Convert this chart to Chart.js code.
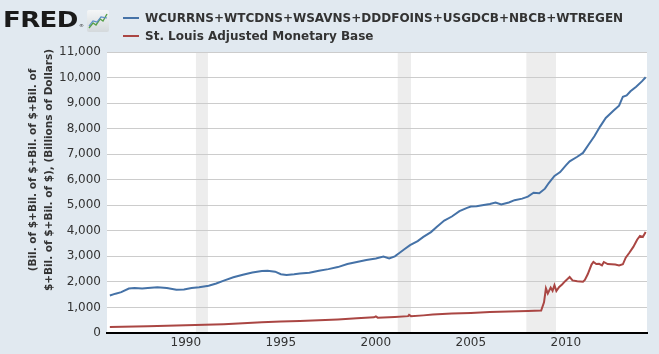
<!DOCTYPE html>
<html lang="en">
<head>
  <meta charset="UTF-8" />
  <title>FRED - Money Stock vs Monetary Base</title>
  <script src="https://cdn.jsdelivr.net/npm/chart.js"></script>
  <style>
    body {
      margin: 0;
      background: #e1e9f0;
      font-family: 'DejaVu Sans', Verdana, sans-serif;
      color: #333;
    }
    #wrap {
      position: relative;
      width: 659px;
      height: 354px;
      overflow: hidden;
    }
    #chartBox {
      position: absolute;
      left: 0;
      top: 0;
      width: 659px;
      height: 354px;
    }
    .logo {
      position: absolute;
      left: 3px;
      top: 10px;
      font-family: 'DejaVu Sans', sans-serif;
      font-weight: bold;
      font-size: 21px;
      line-height: 21px;
      color: #1a1a1a;
      letter-spacing: -0.5px;
      transform: scaleX(1.24);
      transform-origin: left top;
    }
    .logo sup {
      font-size: 4px;
      font-weight: normal;
      vertical-align: 0;
      margin-left: 1px;
    }
    .icon {
      position: absolute;
      left: 87px;
      top: 10px;
    }
    .legend {
      position: absolute;
      left: 123px;
      top: 10px;
      font-size: 12px;
      font-weight: bold;
      color: #333;
    }
    .legend div {
      height: 18px;
      line-height: 16px;
      white-space: nowrap;
    }
    .legend span.sw {
      display: inline-block;
      width: 16px;
      height: 2px;
      vertical-align: middle;
      margin-right: 6px;
      position: relative;
      top: -1px;
    }
    .ytitle {
      position: absolute;
      left: 40px;
      top: 170px;
      width: 260px;
      font-size: 10.5px;
      font-weight: bold;
      line-height: 16px;
      text-align: center;
      white-space: nowrap;
      transform: translate(-50%, -50%) rotate(-90deg);
      transform-origin: center;
    }
  </style>
</head>
<body>
<div id="wrap">
  <div id="chartBox"><canvas id="fredChart"></canvas></div>
  <div class="logo">FRED<sup>®</sup></div>
  <svg class="icon" width="22" height="22" viewBox="0 0 22 22">
    <defs>
      <linearGradient id="g" x1="0" y1="0" x2="0" y2="1">
        <stop offset="0" stop-color="#f4f6f7" />
        <stop offset="1" stop-color="#d4d9dc" />
      </linearGradient>
    </defs>
    <rect x="0" y="0" width="22" height="22" rx="2" fill="url(#g)" />
    <polyline points="2,18 6,13 9,15 13,9 16,11 20,4" fill="none" stroke="#58a04a" stroke-width="1.4" />
    <polyline points="2,16 6,11 10,12 14,7 20,8" fill="none" stroke="#5b8fc7" stroke-width="1.2" />
  </svg>
  <div class="legend">
    <div><span class="sw" style="background:#4572a7"></span>WCURRNS+WTCDNS+WSAVNS+DDDFOINS+USGDCB+NBCB+WTREGEN</div>
    <div><span class="sw" style="background:#aa4643"></span>St. Louis Adjusted Monetary Base</div>
  </div>
  <div class="ytitle">(Bil. of $+Bil. of $+Bil. of $+Bil. of<br>$+Bil. of $+Bil. of $), (Billions of Dollars)</div>
</div>

<script>
  // sum of deposit/currency series, billions of dollars
  const sumYears = [1986.0, 1986.3, 1986.6, 1987.0, 1987.3, 1987.7, 1988.0, 1988.5, 1989.0, 1989.5,
    1989.9, 1990.3, 1990.7, 1991.2, 1991.6, 1992.0, 1992.5, 1993.0, 1993.5, 1994.0,
    1994.3, 1994.7, 1995.0, 1995.3, 1995.7, 1996.0, 1996.5, 1997.0, 1997.5, 1998.0,
    1998.5, 1999.0, 1999.5, 2000.0, 2000.4, 2000.7, 2001.0, 2001.2, 2001.5, 2001.8,
    2002.2, 2002.5, 2002.9, 2003.2, 2003.6, 2004.0, 2004.4, 2004.8, 2005.0, 2005.3,
    2005.6, 2006.0, 2006.3, 2006.6, 2007.0, 2007.3, 2007.7, 2008.0, 2008.3, 2008.6,
    2008.9, 2009.1, 2009.4, 2009.7, 2010.0, 2010.2, 2010.6, 2010.9, 2011.2, 2011.5,
    2011.8, 2012.1, 2012.5, 2012.8, 2013.0, 2013.2, 2013.4, 2013.7, 2014.0, 2014.2];
  const sumValues = [1470, 1540, 1600, 1740, 1760, 1740, 1760, 1790, 1760, 1690,
    1700, 1760, 1790, 1850, 1940, 2050, 2180, 2280, 2370, 2430,
    2440, 2400, 2300, 2270, 2300, 2330, 2360, 2440, 2500, 2580,
    2700, 2780, 2860, 2920, 2990, 2920, 3000, 3110, 3280, 3440,
    3600, 3760, 3950, 4150, 4400, 4560, 4770, 4900, 4950, 4960,
    5000, 5050, 5110, 5030, 5110, 5200, 5260, 5340, 5490, 5470,
    5650, 5870, 6150, 6300, 6560, 6720, 6900, 7050, 7380, 7700,
    8080, 8420, 8700, 8900, 9250, 9300, 9460, 9640, 9850, 10010];

  // St. Louis adjusted monetary base, billions of dollars
  const baseYears = [1986.0, 1988.0, 1990.0, 1991.0, 1992.0, 1993.0, 1994.0, 1995.0, 1996.0, 1997.0,
    1998.0, 1999.0, 1999.9, 2000.0, 2000.1, 2001.0, 2001.7, 2001.75, 2001.85, 2002.5,
    2003.0, 2004.0, 2005.0, 2006.0, 2007.0, 2008.0, 2008.7, 2008.85, 2008.95, 2009.05,
    2009.2, 2009.3, 2009.4, 2009.5, 2009.65, 2009.8, 2009.95, 2010.1, 2010.2, 2010.35,
    2010.6, 2010.9, 2011.0, 2011.15, 2011.35, 2011.45, 2011.6, 2011.75, 2011.9, 2012.0,
    2012.2, 2012.4, 2012.6, 2012.8, 2013.0, 2013.15, 2013.35, 2013.55, 2013.75, 2013.9,
    2014.05, 2014.2];
  const baseValues = [230, 260, 300, 320, 345, 385, 425, 450, 470, 500,
    530, 575, 615, 650, 600, 630, 660, 710, 660, 690,
    720, 760, 785, 820, 845, 860, 880, 1200, 1750, 1550,
    1780, 1650, 1870, 1640, 1800, 1900, 2020, 2120, 2190, 2060,
    2030, 2010, 2080, 2300, 2680, 2780, 2700, 2710, 2650, 2780,
    2700, 2690, 2680, 2640, 2690, 2950, 3150, 3370, 3650, 3800,
    3760, 3950];

  // recession shading [start, end]
  const recessions = [[1990.53, 1991.16], [2001.15, 2001.85], [2007.92, 2009.48]];
  const xTicks = [1990, 1995, 2000, 2005, 2010];

  const toPoints = (xs, ys) => xs.map((x, i) => ({ x: x, y: ys[i] }));

  // white plot background and grey recession bars
  const plotBg = {
    id: 'plotBg',
    beforeDraw(chart) {
      const { ctx, chartArea: a, scales: { x } } = chart;
      ctx.save();
      ctx.fillStyle = '#ffffff';
      ctx.fillRect(a.left, a.top, a.right - a.left, a.bottom - a.top);
      ctx.fillStyle = '#ededed';
      recessions.forEach(r => {
        const x0 = x.getPixelForValue(r[0]);
        const x1 = x.getPixelForValue(r[1]);
        ctx.fillRect(x0, a.top, x1 - x0, a.bottom - a.top);
      });
      ctx.restore();
    }
  };

  Chart.defaults.font.family = "'DejaVu Sans', Verdana, sans-serif";
  Chart.defaults.font.size = 12;
  Chart.defaults.color = '#333';

  new Chart(document.getElementById('fredChart'), {
    type: 'line',
    data: {
      datasets: [
        { label: 'WCURRNS+WTCDNS+WSAVNS+DDDFOINS+USGDCB+NBCB+WTREGEN', data: toPoints(sumYears, sumValues),
          borderColor: '#4572a7', borderWidth: 2, pointRadius: 0, tension: 0 },
        { label: 'St. Louis Adjusted Monetary Base', data: toPoints(baseYears, baseValues),
          borderColor: '#aa4643', borderWidth: 2, pointRadius: 0, tension: 0 }
      ]
    },
    options: {
      responsive: true,
      maintainAspectRatio: false,
      animation: false,
      layout: { padding: { top: 52, right: 12, left: 10, bottom: 0 } },
      plugins: { legend: { display: false }, tooltip: { enabled: false } },
      scales: {
        x: {
          type: 'linear',
          min: 1985.85,
          max: 2014.27,
          afterFit: s => { s.height = 21; },
          afterBuildTicks: s => { s.ticks = xTicks.map(v => ({ value: v })); },
          grid: { display: false, drawTicks: false },
          border: { display: true, color: '#000', width: 2 },
          ticks: { padding: 3, callback: v => String(v), maxRotation: 0 }
        },
        y: {
          min: 0,
          max: 11000,
          afterFit: s => { s.width = 97; },
          grid: { color: '#cccccc', lineWidth: 1, drawTicks: false },
          border: { display: false },
          ticks: { stepSize: 1000, padding: 6, callback: v => v.toLocaleString('en-US') }
        }
      }
    },
    plugins: [plotBg]
  });
</script>
</body>
</html>
